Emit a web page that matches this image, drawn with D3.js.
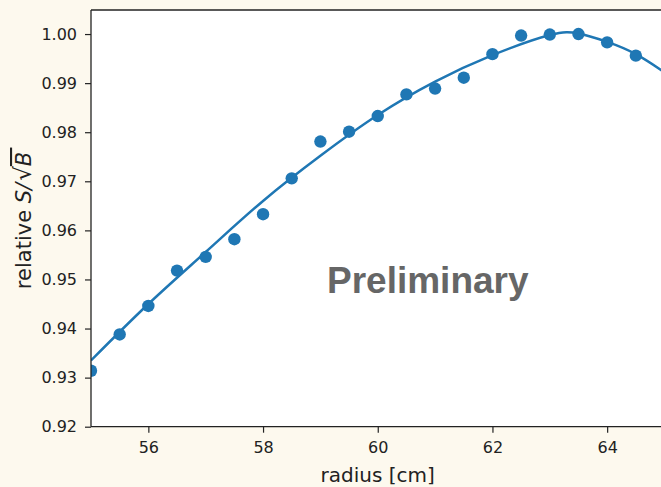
<!DOCTYPE html>
<html>
<head>
<meta charset="utf-8">
<script src="https://cdn.jsdelivr.net/npm/d3@7"></script>
<style>
body{margin:0;background:#fdf9ee;}
svg{display:block;}
</style>
</head>
<body>
<script>
// measured points
var radius=[55,55.5,56,56.5,57,57.5,58,58.5,59,59.5,60,60.5,61,61.5,62,62.5,63,63.5,64,64.5];
var relSB=[0.9314,0.9388,0.9446,0.9518,0.9546,0.9582,0.9633,0.9706,0.9781,0.9801,0.9833,0.9877,0.9889,0.9911,0.9959,0.9997,0.9999,1.0000,0.9983,0.9956];
// fit curve
var fitR=[55,56,57,58,59,60,61,62,63,63.5,64,64.5,65];
var fitV=[0.9335,0.9450,0.9556,0.9660,0.9752,0.9835,0.9903,0.9957,0.9998,1.0001,0.9984,0.9959,0.9922];
var xTicks=[56,58,60,62,64];
var yTicks=[0.92,0.93,0.94,0.95,0.96,0.97,0.98,0.99,1.00];

var width=661;
var height=487;
var plot={left:91, top:10, right:664.5, bottom:426.7};
var blue="#1f77b4";

var svg=d3.select("body")
    .append("svg")
    .attr("width",width)
    .attr("height",height);

var x=d3.scaleLinear().domain([55,65]).range([plot.left,plot.right]);
var y=d3.scaleLinear().domain([0.92,1.0049]).range([plot.bottom,plot.top]);

svg.append("rect")
    .attr("x",plot.left)
    .attr("y",plot.top)
    .attr("width",plot.right-plot.left)
    .attr("height",plot.bottom-plot.top)
    .attr("fill","white");

svg.append("clipPath")
    .attr("id","clip")
    .append("rect")
    .attr("x",plot.left)
    .attr("y",plot.top)
    .attr("width",plot.right-plot.left)
    .attr("height",plot.bottom-plot.top);

var g=svg.append("g").attr("clip-path","url(#clip)");

var line=d3.line()
    .x(function(d,i){return x(fitR[i]);})
    .y(function(d){return y(d);})
    .curve(d3.curveNatural);

g.append("path")
    .attr("d",line(fitV))
    .attr("fill","none")
    .attr("stroke",blue)
    .attr("stroke-width",2.5);

g.selectAll("circle")
    .data(relSB)
    .enter()
    .append("circle")
    .attr("cx",function(d,i){return x(radius[i]);})
    .attr("cy",function(d){return y(d);})
    .attr("r",6.2)
    .attr("fill",blue);

svg.append("text")
    .attr("x",327)
    .attr("y",293)
    .attr("font-family","'Liberation Sans',Arial,sans-serif")
    .attr("font-weight","bold")
    .attr("font-size","37px")
    .attr("fill","#666666")
    .text("Preliminary");

// axes
var xAxis=d3.axisBottom(x).tickValues(xTicks).tickFormat(d3.format("d")).tickSizeOuter(0).tickSize(6).tickPadding(9);
var yAxis=d3.axisLeft(y).tickValues(yTicks).tickFormat(d3.format(".2f")).tickSizeOuter(0).tickSize(6).tickPadding(8);

var gx=svg.append("g").attr("transform","translate(0,"+plot.bottom+")").call(xAxis);
var gy=svg.append("g").attr("transform","translate("+plot.left+",0)").call(yAxis);

[gx,gy].forEach(function(a){
    a.select(".domain").remove();
    a.selectAll("line").attr("stroke","#222").attr("stroke-width",1.2);
    a.selectAll("text")
        .attr("font-family","'DejaVu Sans',sans-serif")
        .attr("font-size","16px")
        .attr("fill","#222");
});

// spines: left, bottom, top
svg.append("line").attr("x1",plot.left).attr("x2",plot.left).attr("y1",plot.top).attr("y2",plot.bottom)
    .attr("stroke","#222").attr("stroke-width",1.3);
svg.append("line").attr("x1",plot.left).attr("x2",width).attr("y1",plot.bottom).attr("y2",plot.bottom)
    .attr("stroke","#222").attr("stroke-width",1.3);
svg.append("line").attr("x1",plot.left).attr("x2",width).attr("y1",plot.top).attr("y2",plot.top)
    .attr("stroke","#222").attr("stroke-width",1.3);

// labels
svg.append("text")
    .attr("x",(plot.left+plot.right)/2)
    .attr("y",482)
    .attr("text-anchor","middle")
    .attr("font-family","'DejaVu Sans',sans-serif")
    .attr("font-size","20px")
    .attr("fill","#222")
    .text("radius [cm]");

var yl=svg.append("text")
    .attr("transform","translate(31,"+((plot.top+plot.bottom)/2)+") rotate(-90)")
    .attr("text-anchor","middle")
    .attr("font-family","'DejaVu Sans',sans-serif")
    .attr("font-size","21px")
    .attr("fill","#222");
yl.append("tspan").text("relative ");
yl.append("tspan").attr("font-style","italic").text("S/");
yl.append("tspan").attr("dx",2).attr("font-size","23px").text("\u221A");
yl.append("tspan").attr("font-style","italic").style("text-decoration","overline").text("B\u2009");
</script>
</body>
</html>
